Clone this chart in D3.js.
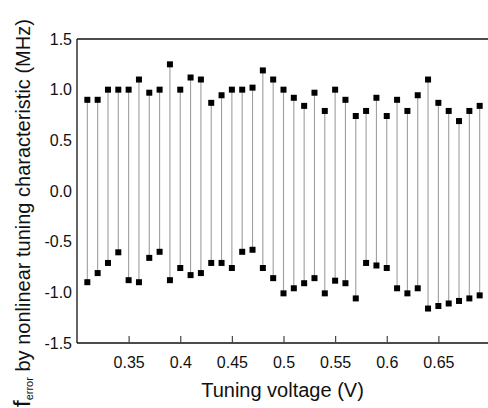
<!DOCTYPE html>
<html><head><meta charset="utf-8">
<script src="https://cdn.jsdelivr.net/npm/d3@7"></script>
<style>html,body{margin:0;padding:0;background:#fff;}svg{display:block;font-family:"Liberation Sans",Arial,sans-serif;}</style>
</head><body>
<svg id="chart" width="488" height="408"></svg>
<script>
const voltages = [0.31,0.32,0.33,0.34,0.35,0.36,0.37,0.38,0.39,0.40,0.41,0.42,0.43,0.44,0.45,0.46,0.47,0.48,0.49,0.50,0.51,0.52,0.53,0.54,0.55,0.56,0.57,0.58,0.59,0.60,0.61,0.62,0.63,0.64,0.65,0.66,0.67,0.68,0.69];
const upperError = [0.9,0.9,1.0,1.0,1.0,1.1,0.97,1.0,1.25,1.0,1.12,1.1,0.87,0.945,1.0,1.0,1.02,1.19,1.1,1.0,0.92,0.84,0.97,0.79,1.0,0.9,0.74,0.79,0.92,0.74,0.9,0.79,0.945,1.1,0.87,0.79,0.69,0.79,0.84];
const lowerError = [-0.9,-0.81,-0.71,-0.605,-0.88,-0.9,-0.66,-0.6,-0.88,-0.76,-0.83,-0.81,-0.71,-0.71,-0.76,-0.6,-0.58,-0.76,-0.86,-1.01,-0.96,-0.91,-0.86,-1.01,-0.885,-0.91,-1.06,-0.71,-0.735,-0.76,-0.96,-1.01,-0.96,-1.16,-1.135,-1.11,-1.085,-1.06,-1.03];
const xTicks = [0.35,0.4,0.45,0.5,0.55,0.6,0.65];
const xTickLabels = ["0.35","0.4","0.45","0.5","0.55","0.6","0.65"];
const yTicks = [1.5,1.0,0.5,0.0,-0.5,-1.0,-1.5];
const yTickLabels = ["1.5","1.0","0.5","0.0","-0.5","-1.0","-1.5"];

const svg = d3.select("#chart");
const L = 77, R = 490, T = 39, B = 343;
const x = d3.scaleLinear().domain([0.3, 0.7]).range([L, R]);
const y = d3.scaleLinear().domain([-1.5, 1.5]).range([B, T]);

// stems
svg.append("g").selectAll("line").data(voltages).join("line")
  .attr("x1", d => x(d)).attr("x2", d => x(d))
  .attr("y1", (d, i) => y(upperError[i])).attr("y2", (d, i) => y(lowerError[i]))
  .attr("stroke", "#9e9e9e").attr("stroke-width", 1.1);

// frame
svg.append("line").attr("x1", L).attr("x2", R).attr("y1", T).attr("y2", T).attr("stroke", "#111").attr("stroke-width", 1.3);
svg.append("line").attr("x1", L).attr("x2", L).attr("y1", T).attr("y2", B).attr("stroke", "#111").attr("stroke-width", 1.3);
svg.append("line").attr("x1", L).attr("x2", R).attr("y1", B).attr("y2", B).attr("stroke", "#111").attr("stroke-width", 1.3);

// x axis ticks (inside)
const xAxis = d3.axisBottom(x).tickValues(xTicks).tickSizeInner(-7).tickSizeOuter(0)
  .tickFormat((d, i) => xTickLabels[i]).tickPadding(14);
const gx = svg.append("g").attr("transform", `translate(0,${B})`).call(xAxis);
gx.select(".domain").remove();
gx.selectAll(".tick line").attr("stroke", "#444").attr("stroke-width", 1.2);
gx.selectAll(".tick text").attr("font-size", 16).attr("fill", "#111")
  .attr("font-family", "Liberation Sans, Arial, sans-serif");

// y axis labels (no tick marks)
const yAxis = d3.axisLeft(y).tickValues(yTicks).tickSize(0).tickPadding(5)
  .tickFormat((d, i) => yTickLabels[i]);
const gy = svg.append("g").attr("transform", `translate(${L},0)`).call(yAxis);
gy.select(".domain").remove();
gy.selectAll(".tick text").attr("font-size", 16).attr("fill", "#111")
  .attr("font-family", "Liberation Sans, Arial, sans-serif");

// markers
const s = 6;
const pts = voltages.flatMap((v, i) => [[v, upperError[i]], [v, lowerError[i]]]);
svg.append("g").selectAll("rect").data(pts).join("rect")
  .attr("x", d => x(d[0]) - s / 2).attr("y", d => y(d[1]) - s / 2)
  .attr("width", s).attr("height", s).attr("fill", "#000");

// titles
svg.append("text").attr("x", (L + R) / 2 - 1).attr("y", 397).attr("text-anchor", "middle")
  .attr("font-size", 20).attr("fill", "#111").text("Tuning voltage (V)");

const yt = svg.append("text").attr("transform", "translate(30,407) rotate(-90)")
  .attr("font-size", 20).attr("fill", "#111");
yt.append("tspan").attr("font-size", 24).text("f");
yt.append("tspan").attr("font-size", 11).attr("dy", 3).text("error");
yt.append("tspan").attr("font-size", 20).attr("dy", -3).text(" by nonlinear tuning characteristic (MHz)");
</script>
</body></html>
